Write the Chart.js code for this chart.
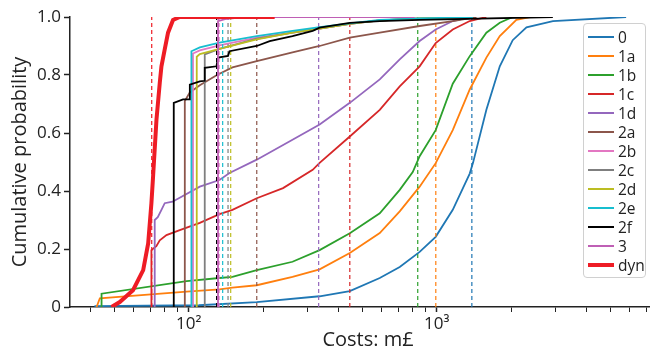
<!DOCTYPE html>
<html>
<head>
<meta charset="utf-8">
<script src="https://cdn.jsdelivr.net/npm/chart.js@4"></script>
<style>
  body { margin: 0; background: #fff; font-family: "Open Sans", sans-serif; }
  #wrap { position: relative; width: 650px; height: 352px; overflow: hidden; }
  #legend {
    position: absolute; left: 583px; top: 23px; width: 61px;
    padding: 3px 0 3px 0; border: 1px solid #d0d0d0; border-radius: 4px;
    background: rgba(255,255,255,0.85); font-size: 15.5px; color: #222;
  }
  #legend .row { height: 19px; display: flex; align-items: center; }
  #legend .swatch { width: 26px; margin: 0 4px 0 4px; }
</style>
</head>
<body>
<div id="wrap">
  <canvas id="chart" width="672" height="352"></canvas>
  <div id="legend"></div>
</div>
<script>
// Scenario names and line colours
const seriesLabels = ['0', '1a', '1b', '1c', '1d', '2a', '2b', '2c', '2d', '2e', '2f', '3', 'dyn'];
const seriesColors = ['#1f77b4', '#ff7f0e', '#2ca02c', '#d62728', '#9467bd', '#8c564b',
  '#e377c2', '#7f7f7f', '#bcbd22', '#17becf', '#000000', '#bf5fb5', '#ee1c25'];

// Empirical CDFs: [cost in m£, cumulative probability]
const cdf0 = [[42, 0], [42, 0.003], [110, 0.006], [188, 0.017], [337, 0.037], [446, 0.055], [589, 0.10],
  [709, 0.138], [853, 0.19], [990, 0.242], [1160, 0.335], [1358, 0.46], [1400, 0.497], [1585, 0.68],
  [1795, 0.83], [2024, 0.92], [2300, 0.964], [2940, 0.986], [5800, 1.0]];
const cdf1a = [[42.5, 0], [43.8, 0.03], [98, 0.053], [133, 0.061], [150, 0.067], [188, 0.075], [262, 0.104],
  [337, 0.13], [446, 0.186], [589, 0.255], [709, 0.33], [853, 0.415], [990, 0.496], [1160, 0.61],
  [1358, 0.75], [1585, 0.86], [1795, 0.934], [2094, 0.99], [2370, 1.0]];
const cdf1b = [[44.5, 0], [44.5, 0.046], [98, 0.089], [133, 0.10], [150, 0.104], [188, 0.127], [262, 0.156],
  [337, 0.196], [446, 0.254], [589, 0.323], [709, 0.404], [800, 0.465], [853, 0.52], [990, 0.61],
  [1160, 0.77], [1358, 0.865], [1585, 0.946], [1795, 0.98], [2024, 1.0]];
const cdf1c = [[70.7, 0], [70.7, 0.196], [74, 0.21], [76.4, 0.23], [81.3, 0.248], [92, 0.265], [110.8, 0.29],
  [133, 0.32], [150, 0.335], [188, 0.375], [240, 0.41], [316, 0.473], [337, 0.497], [446, 0.588],
  [589, 0.68], [709, 0.761], [853, 0.83], [990, 0.91], [1160, 0.957], [1358, 0.986], [1585, 1.0]];
const cdf1d = [[72.9, 0], [72.9, 0.30], [75, 0.31], [77.6, 0.335], [80, 0.358], [86, 0.363], [110.8, 0.415],
  [133, 0.438], [146, 0.462], [188, 0.508], [262, 0.577], [337, 0.629], [446, 0.704], [589, 0.785],
  [709, 0.854], [853, 0.917], [990, 0.957], [1160, 0.986], [1358, 1.0]];
const cdf2a = [[96.4, 0], [96.4, 0.71], [101, 0.74], [110.8, 0.765], [130, 0.80], [150, 0.826], [188, 0.848],
  [262, 0.878], [337, 0.90], [446, 0.929], [589, 0.946], [853, 0.969], [1160, 0.986], [1445, 1.0]];
const cdf2b = [[104, 0], [104, 0.874], [110.8, 0.885], [133, 0.902], [188, 0.929], [262, 0.946], [337, 0.96],
  [446, 0.976], [589, 0.988], [853, 0.995], [1400, 1.0]];
const cdf2c = [[116, 0], [116, 0.871], [133, 0.89], [188, 0.925], [262, 0.946], [337, 0.96], [446, 0.976],
  [589, 0.988], [853, 0.995], [1400, 1.0]];
const cdf2d = [[107.7, 0], [107.7, 0.863], [110.8, 0.872], [133, 0.89], [188, 0.923], [262, 0.946],
  [337, 0.96], [446, 0.976], [589, 0.988], [853, 0.995], [1400, 1.0]];
const cdf2e = [[102.5, 0], [102.5, 0.882], [110.8, 0.895], [133, 0.912], [188, 0.934], [262, 0.952],
  [337, 0.965], [446, 0.978], [589, 0.99], [853, 0.995], [1400, 1.0]];
const cdf2f = [[87, 0], [87, 0.704], [94.8, 0.716], [101, 0.716], [101, 0.767], [110.8, 0.778], [116, 0.78],
  [116, 0.825], [129.3, 0.83], [131.2, 0.86], [144, 0.866], [146, 0.882], [188, 0.9], [212, 0.917],
  [262, 0.934], [316, 0.952], [337, 0.963], [446, 0.98], [589, 0.986], [853, 0.99], [2938, 1.0]];
const cdf3 = [[131.2, 0], [131.2, 0.986], [140, 0.993], [160, 0.998], [188, 1.0], [815, 1.0]];
const cdfDyn = [[48.8, 0], [52.7, 0.017], [59.6, 0.058], [65.5, 0.127], [68.6, 0.219], [70.7, 0.358],
  [71.8, 0.45], [74.1, 0.646], [76.4, 0.773], [77.6, 0.83], [80, 0.888], [82.5, 0.946], [86.4, 0.99],
  [92, 1.0], [222, 1.0]];

// Expected cost of each scenario (dashed verticals), m£
const meanCost = [1385, 991, 838, 446, 334, 188, 132.5, 144, 147.6, 137, 129.5, 131.5, 70.9];

const curves = [cdf0, cdf1a, cdf1b, cdf1c, cdf1d, cdf2a, cdf2b, cdf2c, cdf2d, cdf2e, cdf2f, cdf3, cdfDyn];

const n = seriesLabels.length;
const datasets = [];
curves.forEach(function (pts, i) {
  const isDyn = seriesLabels[i] === 'dyn';
  datasets.push({
    label: seriesLabels[i],
    data: pts.map(p => ({ x: p[0], y: p[1] })),
    borderColor: seriesColors[i],
    borderWidth: isDyn ? 4 : 1.8,
    pointRadius: 0,
    tension: 0,
    fill: false,
    order: 2 * (n - i)
  });
  datasets.push({
    label: seriesLabels[i] + ' mean',
    data: [{ x: meanCost[i], y: 0 }, { x: meanCost[i], y: 1 }],
    borderColor: seriesColors[i],
    borderWidth: 1.2,
    borderDash: [4, 3],
    pointRadius: 0,
    fill: false,
    order: 2 * (n - i) - 1
  });
});

const fontFamily = '"Open Sans", sans-serif';
const supers = { 100: '10\u00b2', 1000: '10\u00b3' };

const ctx = document.getElementById('chart').getContext('2d');
const chart = new Chart(ctx, {
  type: 'line',
  data: { datasets: datasets },
  options: {
    responsive: false,
    animation: false,
    layout: { padding: { top: 17, right: 6, left: 0, bottom: 0 } },
    plugins: { legend: { display: false }, tooltip: { enabled: false } },
    scales: {
      x: {
        type: 'logarithmic',
        min: 33.2,
        max: 8400,
        afterFit: s => { s.height = 45; },
        afterBuildTicks: s => {
          // keep only 1..9 x 10^k
          s.ticks = s.ticks.filter(t => {
            const m = t.value / Math.pow(10, Math.floor(Math.log10(t.value) + 1e-9));
            return Math.abs(m - Math.round(m)) < 1e-6;
          });
        },
        grid: {
          drawOnChartArea: false,
          tickLength: 5,
          tickColor: '#222',
          tickWidth: c => (supers[c.tick && c.tick.value] ? 1.5 : 1)
        },
        border: { display: true, color: '#222', width: 1.5 },
        ticks: {
          autoSkip: false,
          maxRotation: 0,
          color: '#222',
          padding: 2,
          font: { family: fontFamily, size: 17 },
          callback: v => supers[v] || ''
        },
        title: {
          display: true,
          text: 'Costs: m\u00a3',
          color: '#222',
          font: { family: fontFamily, size: 20 },
          padding: { top: 0, bottom: 0 }
        }
      },
      y: {
        min: 0,
        max: 1,
        afterFit: s => { s.width = 70; },
        grid: { drawOnChartArea: false, tickLength: 6, tickColor: '#222', tickWidth: 1.5 },
        border: { display: true, color: '#222', width: 1.5 },
        ticks: {
          stepSize: 0.2,
          color: '#222',
          padding: 3,
          font: { family: fontFamily, size: 17 },
          callback: v => (v === 0 ? '0' : v.toFixed(1))
        },
        title: {
          display: true,
          text: 'Cumulative probability',
          color: '#222',
          font: { family: fontFamily, size: 20 },
          padding: { top: 8, bottom: 0 }
        }
      }
    }
  }
});

// Legend box in the top-right corner of the plot
const legendEl = document.getElementById('legend');
seriesLabels.forEach(function (name, i) {
  const row = document.createElement('div');
  row.className = 'row';
  const sw = document.createElement('span');
  sw.className = 'swatch';
  sw.style.height = (name === 'dyn' ? 4 : 2) + 'px';
  sw.style.background = seriesColors[i];
  const txt = document.createElement('span');
  txt.textContent = name;
  row.appendChild(sw);
  row.appendChild(txt);
  legendEl.appendChild(row);
});
</script>
</body>
</html>
